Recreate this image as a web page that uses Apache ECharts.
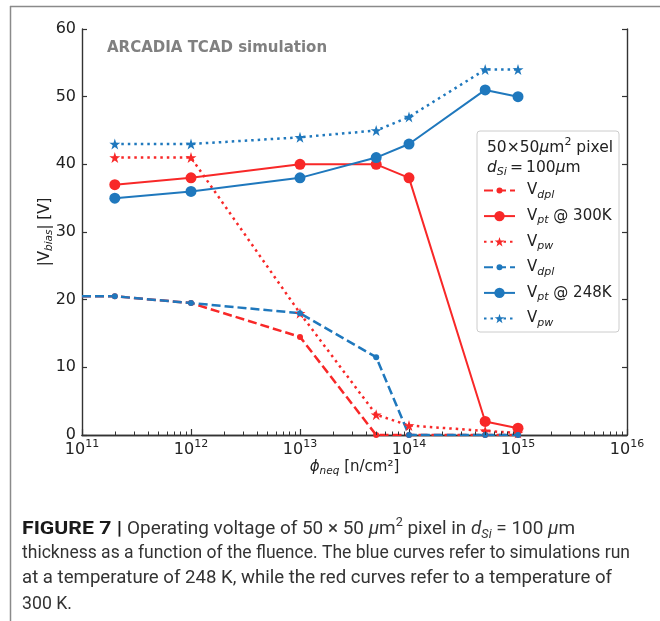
<!DOCTYPE html>
<html>
<head>
<meta charset="utf-8">
<script src="https://cdn.jsdelivr.net/npm/echarts@6/dist/echarts.min.js"></script>
<style>
html, body { margin: 0; padding: 0; background: #fff; }
#chart { width: 660px; height: 621px; }
</style>
</head>
<body>
<div id="chart"></div>
<script>
// Fluence points (n/cm^2) and operating voltages |V_bias| (V)
const fluenceDpl = [1e11, 2e11, 1e12, 1e13, 5e13, 1e14, 5e14, 1e15];
const fluence = [2e11, 1e12, 1e13, 5e13, 1e14, 5e14, 1e15];

// 300 K
const vDpl300 = [20.5, 20.5, 19.5, 14.5, 0, 0, 0, 0];
const vPt300 = [37, 38, 40, 40, 38, 2, 1];
const vPw300 = [41, 41, 18, 3, 1.4, 0.6, 0.3];

// 248 K
const vDpl248 = [20.5, 20.5, 19.5, 18, 11.5, 0, 0, 0];
const vPt248 = [35, 36, 38, 41, 43, 51, 50];
const vPw248 = [43, 43, 44, 45, 47, 54, 54];

// Axis ticks
const yTicks = [0, 10, 20, 30, 40, 50, 60];
const xMin = 1e11, xMax = 1e16;
const decadeExponents = [11, 12, 13, 14, 15];
const minorMultipliers = [2, 3, 4, 5, 6, 7, 8, 9];

// Caption
const captionHead = 'FIGURE 7 |';
const captionLines = [
  'thickness as a function of the fluence. The blue curves refer to simulations run',
  'at a temperature of 248 K, while the red curves refer to a temperature of',
  '300 K.'
];

const RED = '#f82828';
const BLUE = '#1f78bd';
const AX = '#333333';
const FONT = 'DejaVu Sans';
const CAP_FONT = 'Roboto';
const STAR = 'path://M50,2 L61.2,36.2 L97,36.2 L68,57.4 L79.2,92 L50,70.6 L20.8,92 L32,57.4 L3,36.2 L38.8,36.2 Z';

const minorTicks = [];
decadeExponents.forEach(e => minorMultipliers.forEach(m => minorTicks.push(m * Math.pow(10, e))));

// points sitting on the left spine keep the line but hide their marker
const pairs = (xs, ys) => xs.map((x, i) => (x <= xMin ? { value: [x, ys[i]], symbol: 'none' } : [x, ys[i]]));

const dashed = [9, 4];
const dotted = [2.5, 4];

const subRich = {
  a: { fontFamily: FONT, fontSize: 15, color: '#222', lineHeight: 20 },
  s: { fontFamily: FONT, fontSize: 11, fontStyle: 'italic', color: '#222', lineHeight: 11, verticalAlign: 'bottom' },
  g: { width: 7, lineHeight: 20 }
};

const seriesDefs = [
  { name: 'dpl300', data: pairs(fluenceDpl, vDpl300), color: RED, type: dashed, width: 2.5, symbol: 'circle', size: 6, label: '{g|}{a|V}{s|dpl}', ih: 7.5 },
  { name: 'pt300', data: pairs(fluence, vPt300), color: RED, type: 'solid', width: 2, symbol: 'circle', size: 11, label: '{g|}{a|V}{s|pt}{a| @ 300K}', ih: 13 },
  { name: 'pw300', data: pairs(fluence, vPw300), color: RED, type: dotted, width: 2.5, symbol: STAR, size: 11, label: '{g|}{a|V}{s|pw}', ih: 12 },
  { name: 'dpl248', data: pairs(fluenceDpl, vDpl248), color: BLUE, type: dashed, width: 2.5, symbol: 'circle', size: 6, label: '{g|}{a|V}{s|dpl}', ih: 7.5 },
  { name: 'pt248', data: pairs(fluence, vPt248), color: BLUE, type: 'solid', width: 2, symbol: 'circle', size: 11, label: '{g|}{a|V}{s|pt}{a| @ 248K}', ih: 13 },
  { name: 'pw248', data: pairs(fluence, vPw248), color: BLUE, type: dotted, width: 2.5, symbol: STAR, size: 11, label: '{g|}{a|V}{s|pw}', ih: 12 }
];

const series = seriesDefs.map(d => ({
  name: d.name,
  type: 'line',
  data: d.data,
  symbol: d.symbol,
  symbolSize: d.size,
  showAllSymbol: true,
  clip: true,
  animation: false,
  lineStyle: { color: d.color, width: d.width, type: d.type },
  itemStyle: { color: d.color, borderWidth: 0 },
  emphasis: { disabled: true }
}));

// Minor ticks of the logarithmic axis (2..9 per decade)
series.push({
  type: 'custom',
  silent: true,
  clip: false,
  z: 5,
  animation: false,
  data: minorTicks.map(v => [v, 0]),
  renderItem(params, api) {
    const p = api.coord([api.value(0), 0]);
    const cs = params.coordSys;
    const x = Math.round(p[0]) + 0.5;
    const b = cs.y + cs.height;
    return { type: 'line', shape: { x1: x, y1: b, x2: x, y2: b - 3.5 }, style: { stroke: AX, lineWidth: 1 } };
  }
});

const legendTop0 = 193;
const legendStep = 25.6;
const legends = seriesDefs.map((d, i) => ({
  data: [d.name],
  orient: 'vertical',
  left: 483,
  top: legendTop0 + legendStep * i - 10,
  padding: 0,
  itemWidth: 31,
  itemHeight: d.ih,
  selectedMode: false,
  z: 6,
  formatter: () => d.label,
  textStyle: { rich: subRich }
}));

// Caption: condensed sans, each line fitted to its measured extent
const measureCtx = document.createElement('canvas').getContext('2d');
const textWidth = (parts) => parts.reduce((w, [t, f]) => { measureCtx.font = f; return w + measureCtx.measureText(t).width; }, 0);
const capFont = (size, extra) => (extra ? extra + ' ' : '') + size + 'px ' + CAP_FONT;
const fitScale = (parts, width) => width / textWidth(parts);

const capRich = {
  t: { fontFamily: CAP_FONT, fontSize: 18, fill: '#333', lineHeight: 24 },
  i: { fontFamily: CAP_FONT, fontStyle: 'italic', fontSize: 18, fill: '#333', lineHeight: 24 },
  p: { fontFamily: CAP_FONT, fontSize: 12, fill: '#333', lineHeight: 12, verticalAlign: 'top' },
  si: { fontFamily: CAP_FONT, fontStyle: 'italic', fontSize: 12, fill: '#333', lineHeight: 12, verticalAlign: 'bottom' }
};
const line1Parts = [
  ['Operating voltage of 50 × 50 ', capFont(18)], ['μ', capFont(18, 'italic')], ['m', capFont(18)],
  ['2', capFont(12)], [' pixel in ', capFont(18)], ['d', capFont(18, 'italic')], ['Si', capFont(12, 'italic')],
  [' = 100 ', capFont(18)], ['μ', capFont(18, 'italic')], ['m', capFont(18)]
];
const line1Text = '{t|Operating voltage of 50 × 50 }{i|μ}{t|m}{p|2}{t| pixel in }{i|d}{si|Si}{t| = 100 }{i|μ}{t|m}';

const capText = (text, x, y, width, bold) => ({
  type: 'text', x: x, y: y, scaleX: fitScale([[text, capFont(18, bold ? 'bold' : '')]], width),
  style: { text: text, fontFamily: CAP_FONT, fontSize: 18, fill: bold ? '#1a1a1a' : '#333', fontWeight: bold ? 'bold' : 'normal' }
});

const axisLineStyle = { color: AX, width: 1.4 };

const option = {
  animation: false,
  backgroundColor: '#ffffff',
  grid: { left: 82, top: 29, right: 33, bottom: 186, containLabel: false },
  xAxis: [
    {
      type: 'log', logBase: 10, min: xMin, max: xMax, splitNumber: 5,
      position: 'bottom',
      axisLine: { lineStyle: axisLineStyle },
      axisTick: { inside: true, length: 6, lineStyle: { color: AX, width: 1.2 } },
      minorTick: { show: false },
      splitLine: { show: false },
      axisLabel: {
        margin: 4,
        formatter: v => '{b|10}{p|' + Math.round(Math.log10(v)) + '}',
        rich: {
          b: { fontFamily: FONT, fontSize: 16, color: '#222', lineHeight: 22 },
          p: { fontFamily: FONT, fontSize: 11, color: '#222', lineHeight: 11, verticalAlign: 'top' }
        }
      },
      name: '{i|ϕ}{s|neq}{a| [n/cm²]}',
      nameLocation: 'middle',
      nameGap: 22,
      nameMoveOverlap: false,
      nameTextStyle: {
        rich: {
          i: { fontFamily: FONT, fontSize: 15, fontStyle: 'italic', color: '#222', lineHeight: 20 },
          a: { fontFamily: FONT, fontSize: 15, color: '#222', lineHeight: 20 },
          s: { fontFamily: FONT, fontSize: 10.5, fontStyle: 'italic', color: '#222', lineHeight: 10, verticalAlign: 'bottom' }
        }
      }
    },
    {
      type: 'log', logBase: 10, min: xMin, max: xMax, splitNumber: 5,
      position: 'top',
      axisLine: { lineStyle: axisLineStyle },
      axisTick: { show: false },
      axisLabel: { show: false },
      splitLine: { show: false }
    }
  ],
  yAxis: [
    {
      type: 'value', min: yTicks[0], max: yTicks[yTicks.length - 1], interval: 10,
      position: 'left',
      axisLine: { show: true, lineStyle: axisLineStyle },
      axisTick: { show: true, inside: true, length: 5, lineStyle: { color: AX, width: 1.2 } },
      splitLine: { show: false },
      axisLabel: { margin: 6, fontFamily: FONT, fontSize: 16, color: '#222' },
      name: '{a||V}{s|bias}{a|| [V]}',
      nameLocation: 'middle',
      nameRotate: 90,
      nameGap: 27,
      nameMoveOverlap: false,
      nameTextStyle: {
        rich: {
          a: { fontFamily: FONT, fontSize: 15, color: '#222', lineHeight: 20 },
          s: { fontFamily: FONT, fontSize: 10.5, fontStyle: 'italic', color: '#222', lineHeight: 10, verticalAlign: 'bottom' }
        }
      }
    },
    {
      type: 'value', min: yTicks[0], max: yTicks[yTicks.length - 1], interval: 10,
      position: 'right',
      axisLine: { show: true, lineStyle: axisLineStyle },
      axisTick: { show: true, inside: true, length: 5, lineStyle: { color: AX, width: 1.2 } },
      splitLine: { show: false },
      axisLabel: { show: false }
    }
  ],
  legend: legends,
  series: series,
  graphic: [
    // page frame
    { type: 'line', shape: { x1: 10, y1: 6.5, x2: 660, y2: 6.5 }, style: { stroke: '#8a8a8a', lineWidth: 1.5 }, silent: true },
    { type: 'line', shape: { x1: 10.5, y1: 6, x2: 10.5, y2: 621 }, style: { stroke: '#8a8a8a', lineWidth: 1.5 }, silent: true },
    // in-plot annotation
    { type: 'text', left: 107, top: 41, z: 4, style: { text: 'ARCADIA TCAD simulation', fontFamily: FONT, fontWeight: 'bold', fontSize: 15, fill: '#808080' } },
    // legend frame and title
    { type: 'rect', shape: { x: 477, y: 131, width: 142, height: 201, r: 3 }, z: 4, style: { fill: 'rgba(255,255,255,0.85)', stroke: '#cccccc', lineWidth: 1 } },
    { type: 'text', x: 487, y: 137, z: 5, style: {
        text: '{a|50×50}{i|μ}{a|m}{p|2}{a| pixel}',
        rich: {
          a: { fontFamily: FONT, fontSize: 15.5, fill: '#222', lineHeight: 21 },
          i: { fontFamily: FONT, fontSize: 15.5, fontStyle: 'italic', fill: '#222', lineHeight: 21 },
          p: { fontFamily: FONT, fontSize: 11, fill: '#222', lineHeight: 11, verticalAlign: 'top' }
        } } },
    { type: 'text', x: 487, y: 157, z: 5, style: {
        text: '{i|d}{s|Si}{a|\u2009=\u2009100}{i|μ}{a|m}',
        rich: {
          a: { fontFamily: FONT, fontSize: 15.5, fill: '#222', lineHeight: 21 },
          i: { fontFamily: FONT, fontSize: 15.5, fontStyle: 'italic', fill: '#222', lineHeight: 21 },
          s: { fontFamily: FONT, fontSize: 11, fontStyle: 'italic', fill: '#222', lineHeight: 11, verticalAlign: 'bottom' }
        } } },
    // caption
    capText(captionHead, 22, 520, 100, true),
    { type: 'text', x: 127, y: 517, scaleX: fitScale(line1Parts, 448), style: { text: line1Text, rich: capRich } },
    capText(captionLines[0], 22, 544, 608),
    capText(captionLines[1], 22, 569, 590),
    capText(captionLines[2], 22, 595, 50)
  ]
};

const chart = echarts.init(document.getElementById('chart'), null, { renderer: 'canvas' });
chart.setOption(option);
</script>
</body>
</html>
